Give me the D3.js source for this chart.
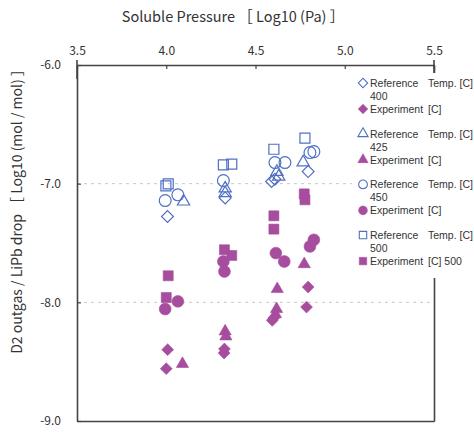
<!DOCTYPE html>
<html>
<head>
<meta charset="utf-8">
<script src="https://cdn.jsdelivr.net/npm/d3@7"></script>
<style>
body { margin: 0; background: #fff; }
text { font-family: "Noto Sans CJK JP", "Noto Sans", sans-serif; fill: #333; }
.leg text { font-family: "Liberation Sans", Arial, sans-serif; }
</style>
</head>
<body>
<div id="chart"></div>
<script>
// data: [log10 pressure, log10 outgas]
const ref400 = [[4.007, -7.277], [4.33, -7.12], [4.59, -6.982], [4.609, -6.962], [4.795, -6.898]]
const ref425 = [[4.097, -7.15], [4.33, -7.04], [4.33, -7.08], [4.62, -6.90], [4.63, -6.94], [4.767, -6.82]]
const ref450 = [[3.994, -7.142], [4.065, -7.094], [4.32, -6.974], [4.609, -6.822], [4.665, -6.822], [4.805, -6.738], [4.827, -6.73]]
const ref500 = [[3.998, -7.018], [4.011, -7.002], [4.32, -6.842], [4.367, -6.836], [4.603, -6.71], [4.777, -6.617]]

const exp400 = [[4.008, -8.399], [4.0, -8.559], [4.326, -8.393], [4.324, -8.427], [4.594, -8.152], [4.602, -8.132], [4.795, -7.871], [4.786, -8.04]]
const exp425 = [[4.091, -8.519], [4.33, -8.245], [4.334, -8.287], [4.622, -7.888], [4.618, -8.056], [4.612, -8.10], [4.773, -7.678]]
const exp450 = [[4.065, -7.992], [3.994, -8.056], [4.32, -7.656], [4.326, -7.74], [4.614, -7.585], [4.661, -7.656], [4.827, -7.473], [4.805, -7.529]]
const exp500 = [[4.011, -7.776], [4.0, -7.959], [4.326, -7.557], [4.367, -7.605], [4.603, -7.271], [4.603, -7.383], [4.773, -7.086], [4.777, -7.136]]

const xTicks = [3.5, 4.0, 4.5, 5.0, 5.5]
const yTicks = [-6.0, -7.0, -8.0, -9.0]
const gridY = [-7.0, -8.0]
const temps = ["400", "425", "450", "500"]

const width = 474
const height = 432
const margin = {top: 65, bottom: 11, left: 77, right: 40}

const blue = "#5070c4"
const purple = "#a64d9e"

const svg = d3.select("#chart").append("svg")
    .attr("width", width).attr("height", height)

const x = d3.scaleLinear().domain([3.5, 5.5]).range([margin.left, width - margin.right])
const y = d3.scaleLinear().domain([-6, -9]).range([margin.top, height - margin.bottom])

// grid
svg.append("g").selectAll("line").data(gridY).join("line")
    .attr("x1", x(3.5)).attr("x2", x(5.5))
    .attr("y1", d => y(d)).attr("y2", d => y(d))
    .attr("stroke", "#c8c8c8").attr("stroke-dasharray", "3,4")

// axes
const fmt = d3.format(".1f")
const topAxis = svg.append("g").attr("transform", `translate(0,${y(-6)})`)
    .call(d3.axisTop(x).tickValues(xTicks).tickFormat(fmt).tickSizeInner(-4).tickSizeOuter(0).tickPadding(10))
const leftAxis = svg.append("g").attr("transform", `translate(${x(3.5)},0)`)
    .call(d3.axisLeft(y).tickValues(yTicks).tickFormat(d => fmt(d).replace("−", "-")).tickSizeInner(-4).tickSizeOuter(0).tickPadding(16))
const bottomAxis = svg.append("g").attr("transform", `translate(0,${y(-9)})`)
    .call(d3.axisBottom(x).tickValues([]).tickSizeOuter(0))
const rightAxis = svg.append("g").attr("transform", `translate(${x(5.5)},0)`)
    .call(d3.axisRight(y).tickValues([]).tickSizeOuter(0))
;[topAxis, leftAxis, bottomAxis, rightAxis].forEach(g => {
  g.select(".domain").attr("stroke", "#444").attr("stroke-width", 1.6)
  g.selectAll(".tick line").attr("stroke", "#444").attr("stroke-width", 1.2)
  g.selectAll("text").attr("font-size", 12).attr("fill", "#333")
    .style("font-family", "'Noto Sans CJK JP', sans-serif")
})
// end ticks on top axis stick up
svg.append("g").selectAll("line").data([3.5, 5.5]).join("line")
    .attr("x1", d => x(d)).attr("x2", d => x(d))
    .attr("y1", y(-6) - 5).attr("y2", y(-6) + 14)
    .attr("stroke", "#444").attr("stroke-width", 1.6)

// titles
svg.append("text").attr("x", 233).attr("y", 22).attr("text-anchor", "middle")
    .attr("font-size", 14.5).text("Soluble Pressure ［ Log10 (Pa) ］")
svg.append("text").attr("transform", "translate(22,208) rotate(-90)")
    .attr("text-anchor", "middle").attr("font-size", 14)
    .text("D2 outgas / LiPb drop ［ Log10 (mol / mol) ］")

// symbols
const sym = (type, size) => d3.symbol().type(type).size(size)
const shapes = [
  {type: d3.symbolSquare, rot: 45, size: 70, leg: 45},
  {type: d3.symbolTriangle, rot: 0, size: 65, leg: 45},
  {type: d3.symbolCircle, rot: 0, size: 110, leg: 60},
  {type: d3.symbolSquare, rot: 0, size: 100, leg: 55}
]

function drawSeries(data, s, filled, color) {
  svg.append("g").selectAll("path").data(data).join("path")
      .attr("d", sym(s.type, s.size))
      .attr("transform", d => `translate(${x(d[0])},${y(d[1])}) rotate(${s.rot})`)
      .attr("fill", filled ? color : "none")
      .attr("stroke", color)
      .attr("stroke-width", filled ? 0.6 : 1.2)
}

drawSeries(ref500, shapes[3], false, blue)
drawSeries(ref450, shapes[2], false, blue)
drawSeries(ref425, shapes[1], false, blue)
drawSeries(ref400, shapes[0], false, blue)

drawSeries(exp500, shapes[3], true, purple)
drawSeries(exp450, shapes[2], true, purple)
drawSeries(exp425, shapes[1], true, purple)
drawSeries(exp400, shapes[0], true, purple)

// legend
const legend = svg.append("g").attr("class", "leg")
legend.append("rect").attr("x", 352).attr("y", 73).attr("width", 122).attr("height", 205).attr("fill", "#fff")
temps.forEach((t, i) => {
  const y0 = 83 + i * 50.7
  const s = shapes[i]
  legend.append("path").attr("d", sym(s.type, s.leg))
      .attr("transform", `translate(363,${y0}) rotate(${s.rot})`)
      .attr("fill", "none").attr("stroke", blue).attr("stroke-width", 1.1)
  legend.append("path").attr("d", sym(s.type, s.leg))
      .attr("transform", `translate(363,${y0 + 26}) rotate(${s.rot})`)
      .attr("fill", purple).attr("stroke", purple).attr("stroke-width", 0.6)
  legend.append("text").attr("x", 370).attr("y", y0 + 4).attr("font-size", 10.5).text("Reference")
  legend.append("text").attr("x", 428).attr("y", y0 + 4).attr("font-size", 10.5).text("Temp. [C]")
  legend.append("text").attr("x", 370).attr("y", y0 + 17).attr("font-size", 10.5).text(t)
  legend.append("text").attr("x", 370).attr("y", y0 + 30).attr("font-size", 10.5).text("Experiment")
  legend.append("text").attr("x", 428).attr("y", y0 + 30).attr("font-size", 10.5)
      .text(i === 3 ? "[C] 500" : "[C]")
})
</script>
</body>
</html>
